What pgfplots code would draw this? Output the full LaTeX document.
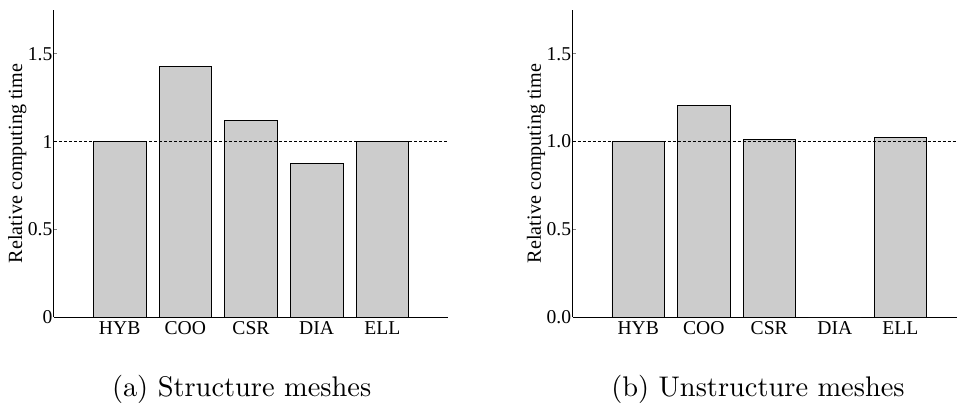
\documentclass[border=0pt]{standalone}
\usepackage{pgfplots}
\pgfplotsset{compat=1.18}
\usepackage{graphicx}
\usepackage{fontspec}
\newfontfamily\tnr{Liberation Serif}
\definecolor{barfill}{RGB}{204,204,204}
\pgfplotsset{
  myaxis/.style={
    scale only axis,
    height=230.25pt,
    ymin=0, ymax=1.75,
    xmin=0,
    axis lines*=left,
    axis line style={-, line width=0.75pt},
    tick align=inside,
    major tick length=2.5pt,
    xtick={1,2,3,4,5},
    xticklabels={HYB,COO,CSR,DIA,ELL},
    xtick style={draw=none},
    ytick={0,0.5,1,1.5},
    ytick style={line width=0.6pt},
    /pgf/number format/assume math mode=true,
    tick label style={font=\tnr\fontsize{14.7}{16}\selectfont},
    yticklabel style={inner xsep=1pt},
    ylabel={Relative computing time},
    ylabel style={font=\tnr\fontsize{15.1}{16}\selectfont, anchor=base},
    clip=false,
  },
  mybar/.style={ybar, bar width=0.8, bar shift=0pt, fill=barfill, draw=black, line width=0.6pt},
}
\begin{document}
\begin{tikzpicture}
\useasboundingbox (0,0) rectangle (717.75pt,303.75pt);
% (a) structure meshes
\begin{axis}[myaxis,
  at={(40.5pt,66pt)}, anchor=south west,
  width=295.5pt, xmax=6,
  ylabel style={at={(axis description cs:-0.0812,0.5)}},
]
\addplot[mybar] coordinates {(1,1.00) (2,1.428) (3,1.119) (4,0.877) (5,1.00)};
\draw[black, line width=0.6pt, dash pattern=on 2.25pt off 1.5pt] (axis cs:0,1) -- (axis cs:6,1);
\end{axis}
% (b) unstructure meshes
\begin{axis}[myaxis,
  at={(429.5pt,66pt)}, anchor=south west,
  width=288pt, xmax=5.86,
  yticklabels={0.0,0.5,1.0,1.5},
  ylabel style={at={(axis description cs:-0.0826,0.5)}},
]
\addplot[mybar] coordinates {(1,1.00) (2,1.208) (3,1.01) (4,0) (5,1.021)};
\draw[black, line width=0.6pt, dash pattern=on 2.25pt off 1.5pt] (axis cs:0,1) -- (axis cs:5.86,1);
\end{axis}
\node[anchor=base west, inner sep=0pt] at (83.8pt,6.3pt) {\scalebox{2.13}{\fontsize{10}{12}\selectfont (a) Structure meshes}};
\node[anchor=base west, inner sep=0pt] at (458.3pt,6.3pt) {\scalebox{2.13}{\fontsize{10}{12}\selectfont (b) Unstructure meshes}};
\end{tikzpicture}
\end{document}
